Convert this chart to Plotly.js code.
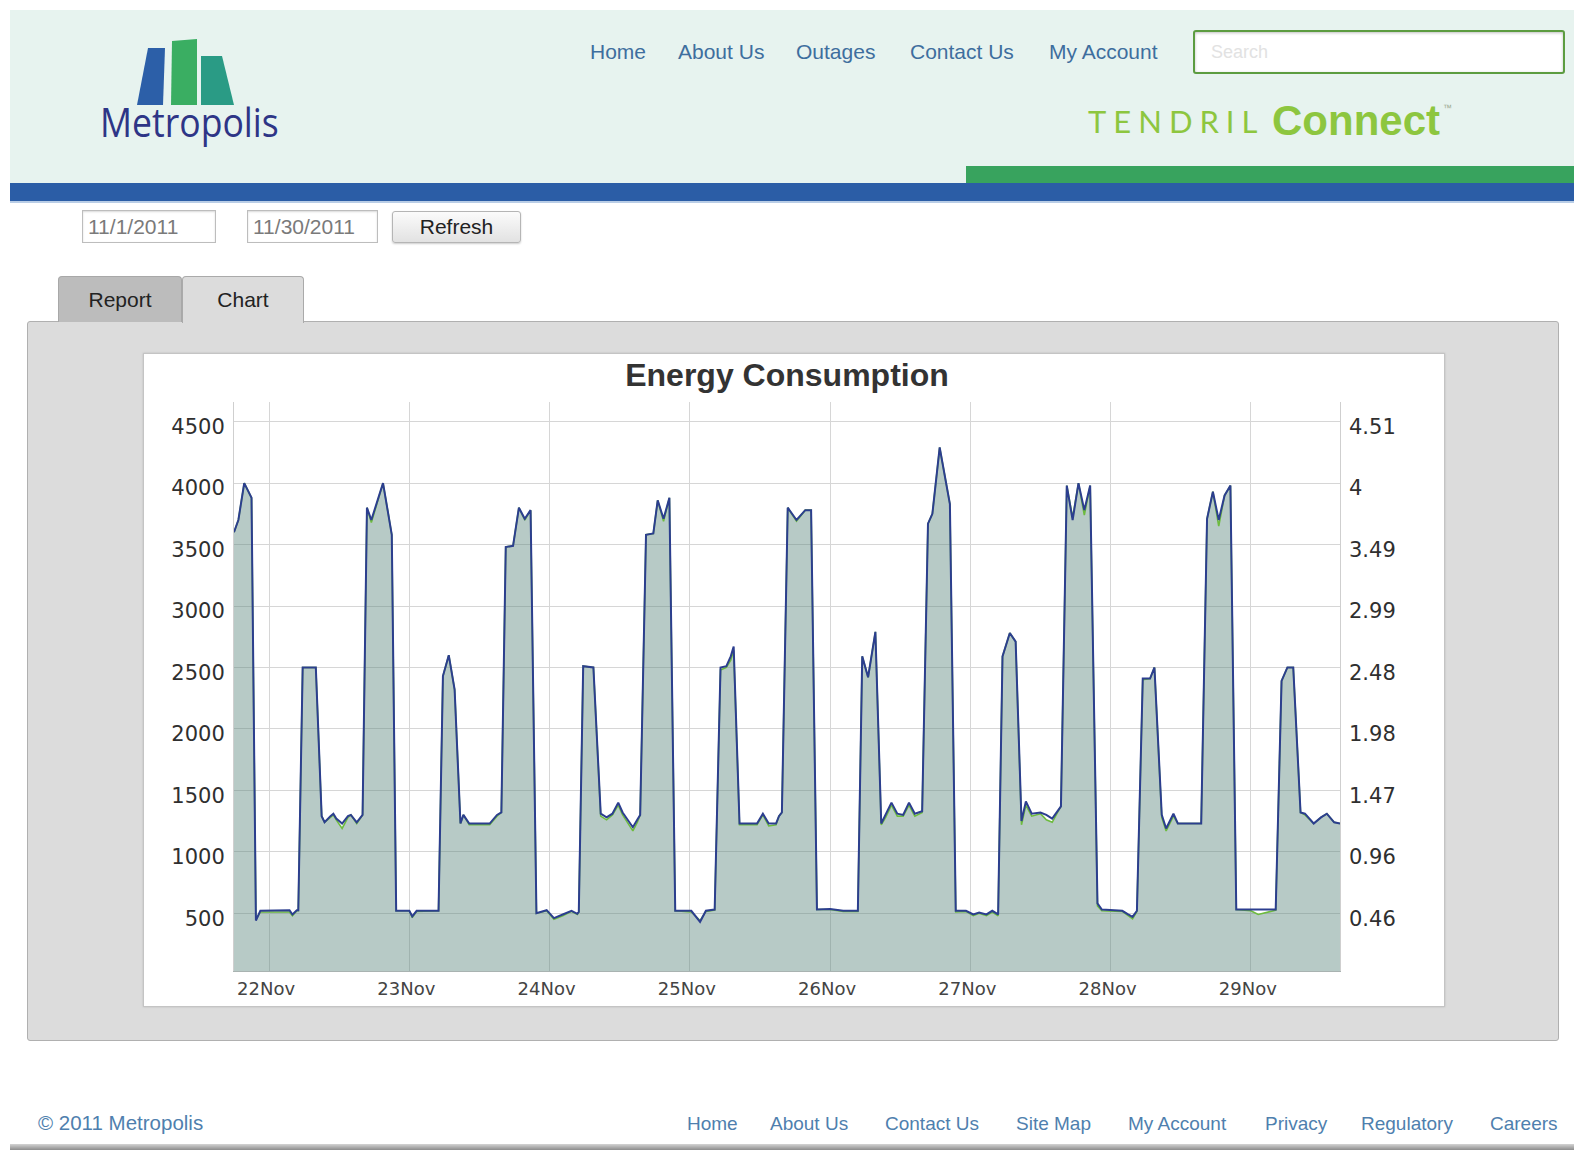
<!DOCTYPE html>
<html>
<head>
<meta charset="utf-8">
<script src="https://cdn.plot.ly/plotly-3.0.1.min.js"></script>
<style>
  html, body { margin: 0; padding: 0; background: #ffffff; }
  body { width: 1574px; height: 1152px; position: relative; overflow: hidden; font-family: "Liberation Sans", Arial, sans-serif; }
  .abs { position: absolute; }
  .txt { position: absolute; line-height: 1; white-space: nowrap; }
  .nav { font-size: 21px; color: #3e6e9e; top: 41px; }
  .foot { font-size: 19px; color: #4f7fae; top: 1114px; }
  .box { position: absolute; display: flex; align-items: center; box-sizing: border-box; }
</style>
</head>
<body>
<!-- header -->
<div class="abs" style="left:10px;top:10px;width:1564px;height:173px;background:#e7f3ef;"></div>
<div class="abs" style="left:966px;top:166px;width:608px;height:17px;background:#38a35e;"></div>
<div class="abs" style="left:10px;top:183px;width:1564px;height:18px;background:#2b5da6;border-bottom:2px solid #b9cde6;"></div>

<svg class="abs" style="left:0;top:0;" width="300" height="110">
  <polygon points="137,105 148,48 165,48 163,105" fill="#2c5fa8"/>
  <polygon points="171,105 172,41 197,39 197,105" fill="#3aae62"/>
  <polygon points="201,105 201,56 222,56 234,105" fill="#2a9b85"/>
</svg>
<div class="txt" style="left:100px;top:102px;font-family:'Open Sans','Noto Sans',sans-serif;font-size:40px;color:#2e3586;transform:scaleX(0.89);transform-origin:left top;">Metropolis</div>

<div class="txt nav" style="left:590px;">Home</div>
<div class="txt nav" style="left:678px;">About Us</div>
<div class="txt nav" style="left:796px;">Outages</div>
<div class="txt nav" style="left:910px;">Contact Us</div>
<div class="txt nav" style="left:1049px;">My Account</div>

<div class="box" style="left:1193px;top:30px;width:372px;height:44px;border:2px solid #5c9c40;border-radius:3px;background:#fff;box-shadow:inset 0 1px 3px rgba(0,0,0,0.25);padding-left:16px;font-size:18px;color:#e2e2e2;">Search</div>

<div class="txt" style="left:1088px;top:106px;font-family:'Lato','Liberation Sans',sans-serif;font-weight:400;font-size:31px;letter-spacing:7px;color:#8dc63f;">TENDRIL</div>
<div class="txt" style="left:1272px;top:100px;font-family:'Liberation Sans',Arial,sans-serif;font-weight:bold;font-size:42px;color:#8dc63f;">Connect</div>
<div class="txt" style="left:1443px;top:104px;font-size:9px;color:#9aaa90;">™</div>

<!-- date controls -->
<div class="box" style="left:82px;top:210px;width:134px;height:33px;border:1px solid #bdbdbd;background:#fff;padding-left:5px;font-size:21px;color:#7a7a7a;box-shadow:inset 0 1px 2px rgba(0,0,0,0.15);">11/1/2011</div>
<div class="box" style="left:247px;top:210px;width:131px;height:33px;border:1px solid #bdbdbd;background:#fff;padding-left:5px;font-size:21px;color:#7a7a7a;box-shadow:inset 0 1px 2px rgba(0,0,0,0.15);">11/30/2011</div>
<div class="box" style="left:392px;top:211px;width:129px;height:32px;border:1px solid #b5b5b5;border-radius:3px;background:linear-gradient(#fbfbfb,#e2e2e2);justify-content:center;font-size:21px;color:#222;box-shadow:0 1px 2px rgba(0,0,0,0.2);">Refresh</div>

<!-- tabs and panel -->
<div class="abs" style="left:27px;top:321px;width:1532px;height:720px;box-sizing:border-box;background:#dcdcdc;border:1px solid #b0b0b0;border-radius:3px;"></div>
<div class="box" style="left:58px;top:276px;width:124px;height:46px;background:#bcbcbc;border:1px solid #a8a8a8;border-bottom:none;border-radius:4px 4px 0 0;justify-content:center;font-size:21px;color:#222;">Report</div>
<div class="box" style="left:182px;top:276px;width:122px;height:47px;background:#dcdcdc;border:1px solid #aaaaaa;border-bottom:none;border-radius:4px 4px 0 0;justify-content:center;font-size:21px;color:#222;">Chart</div>

<!-- chart box -->
<div class="abs" style="left:143px;top:353px;width:1302px;height:654px;box-sizing:border-box;background:#fff;border:1px solid #c4c4c4;box-shadow:0 0 2px rgba(0,0,0,0.15);"></div>
<div id="chart" class="abs" style="left:143px;top:353px;width:1301px;height:653px;"></div>

<!-- footer -->
<div class="txt foot" style="left:38px;font-size:20.5px;top:1113px;">© 2011 Metropolis</div>
<div class="txt foot" style="left:687px;">Home</div>
<div class="txt foot" style="left:770px;">About Us</div>
<div class="txt foot" style="left:885px;">Contact Us</div>
<div class="txt foot" style="left:1016px;">Site Map</div>
<div class="txt foot" style="left:1128px;">My Account</div>
<div class="txt foot" style="left:1265px;">Privacy</div>
<div class="txt foot" style="left:1361px;">Regulatory</div>
<div class="txt foot" style="left:1490px;">Careers</div>
<div class="abs" style="left:10px;top:1144px;width:1564px;height:6px;background:linear-gradient(#d4d4d4,#8c8c8c);"></div>

<script>
// ---- data ----
const readTimes = [
  '2011-11-21 18:00','2011-11-21 18:45','2011-11-21 19:45','2011-11-21 20:30','2011-11-21 21:00','2011-11-21 21:45','2011-11-21 22:30',
  '2011-11-22 03:30','2011-11-22 04:00','2011-11-22 04:45','2011-11-22 05:00','2011-11-22 05:45','2011-11-22 08:00','2011-11-22 09:00','2011-11-22 09:30','2011-11-22 10:30','2011-11-22 11:00','2011-11-22 11:30','2011-11-22 12:30','2011-11-22 13:30','2011-11-22 14:00','2011-11-22 15:00','2011-11-22 15:45','2011-11-22 16:00','2011-11-22 16:45','2011-11-22 17:30','2011-11-22 19:30','2011-11-22 21:00','2011-11-22 21:45',
  '2011-11-23 00:00','2011-11-23 00:30','2011-11-23 01:15','2011-11-23 05:00','2011-11-23 05:45','2011-11-23 06:45','2011-11-23 07:45','2011-11-23 08:45','2011-11-23 09:15','2011-11-23 10:15','2011-11-23 13:45','2011-11-23 15:00','2011-11-23 15:45','2011-11-23 16:30','2011-11-23 17:45','2011-11-23 18:45','2011-11-23 19:45','2011-11-23 20:45','2011-11-23 21:45','2011-11-23 23:30',
  '2011-11-24 00:45','2011-11-24 02:15','2011-11-24 03:45','2011-11-24 04:45','2011-11-24 05:00','2011-11-24 05:45','2011-11-24 07:30','2011-11-24 08:45','2011-11-24 09:45','2011-11-24 10:45','2011-11-24 11:45','2011-11-24 12:30','2011-11-24 14:15','2011-11-24 15:00','2011-11-24 15:30','2011-11-24 16:30','2011-11-24 17:45','2011-11-24 18:30','2011-11-24 19:30','2011-11-24 20:30','2011-11-24 21:30',
  '2011-11-25 00:15','2011-11-25 01:45','2011-11-25 02:45','2011-11-25 04:15','2011-11-25 05:15','2011-11-25 06:15','2011-11-25 07:00','2011-11-25 07:30','2011-11-25 08:30','2011-11-25 11:30','2011-11-25 12:30','2011-11-25 13:30','2011-11-25 14:45','2011-11-25 15:15','2011-11-25 15:45','2011-11-25 16:45','2011-11-25 18:15','2011-11-25 19:45','2011-11-25 20:45','2011-11-25 21:45',
  '2011-11-26 00:00','2011-11-26 02:15','2011-11-26 04:45','2011-11-26 05:30','2011-11-26 06:30','2011-11-26 07:45','2011-11-26 08:45','2011-11-26 09:30','2011-11-26 10:30','2011-11-26 11:30','2011-11-26 12:30','2011-11-26 13:30','2011-11-26 14:30','2011-11-26 15:45','2011-11-26 16:45','2011-11-26 17:30','2011-11-26 18:45','2011-11-26 20:30','2011-11-26 21:30','2011-11-26 23:15',
  '2011-11-27 00:30','2011-11-27 01:30','2011-11-27 02:45','2011-11-27 03:45','2011-11-27 04:45','2011-11-27 05:30','2011-11-27 06:45','2011-11-27 07:45','2011-11-27 08:45','2011-11-27 09:30','2011-11-27 10:30','2011-11-27 12:00','2011-11-27 13:00','2011-11-27 14:00','2011-11-27 15:15','2011-11-27 15:30','2011-11-27 16:30','2011-11-27 17:30','2011-11-27 18:30','2011-11-27 19:30','2011-11-27 20:30','2011-11-27 21:45','2011-11-27 22:30',
  '2011-11-28 02:00','2011-11-28 03:00','2011-11-28 03:45','2011-11-28 04:30','2011-11-28 05:30','2011-11-28 06:45','2011-11-28 07:30','2011-11-28 08:45','2011-11-28 09:30','2011-11-28 10:45','2011-11-28 11:30','2011-11-28 15:30','2011-11-28 16:30','2011-11-28 17:30','2011-11-28 18:30','2011-11-28 19:30','2011-11-28 20:30','2011-11-28 21:30',
  '2011-11-29 00:00','2011-11-29 01:15','2011-11-29 02:30','2011-11-29 04:15','2011-11-29 05:15','2011-11-29 06:15','2011-11-29 07:15','2011-11-29 08:30','2011-11-29 09:15','2011-11-29 10:45','2011-11-29 12:00','2011-11-29 13:00','2011-11-29 14:15','2011-11-29 15:15'
];

// navy series (drawn on top)
const usageBlue = [
  3600,3700,4000,3930,3880,440,520,
  525,490,525,525,2500,2500,1290,1240,1290,1310,1270,1230,1290,1300,1240,1290,1300,3800,3700,4000,3580,520,
  520,475,520,520,2430,2600,2320,1230,1300,1230,1230,1300,1320,3480,3490,3800,3710,3780,500,525,
  460,490,520,495,510,2510,2500,1310,1280,1310,1400,1320,1200,1260,1300,3580,3590,3860,3710,3880,520,
  520,430,520,530,2500,2510,2590,2670,1230,1230,1310,1230,1230,1290,1320,3800,3700,3780,3780,530,
  535,520,520,2590,2420,2790,1230,1300,1400,1310,1300,1400,1310,1330,3670,3750,4290,3830,520,520,
  490,505,490,520,490,2590,2780,2710,1250,1410,1310,1320,1300,1270,1360,1370,3980,3700,4000,3780,3980,580,530,
  520,490,470,520,2410,2410,2500,1300,1190,1310,1230,1230,3710,3930,3700,3900,3980,530,
  530,530,530,530,2390,2500,2500,1320,1310,1230,1280,1310,1240,1230
];

// green series (filled area, mostly under the navy line)
const usageGreen = [
  3600,3700,4000,3930,3880,450,510,
  510,480,520,520,2500,2500,1290,1240,1280,1300,1260,1190,1280,1300,1230,1290,1300,3800,3680,4000,3580,520,
  520,465,515,520,2430,2600,2320,1230,1300,1220,1220,1290,1320,3480,3490,3800,3700,3780,500,520,
  450,480,515,490,510,2510,2500,1290,1260,1300,1380,1300,1170,1240,1300,3580,3590,3860,3690,3880,520,
  510,440,515,525,2480,2500,2560,2640,1220,1220,1300,1210,1220,1290,1320,3800,3690,3780,3780,530,
  530,515,515,2590,2420,2790,1220,1280,1380,1290,1290,1380,1290,1320,3670,3750,4290,3830,510,515,
  480,500,480,510,480,2590,2780,2710,1220,1380,1290,1310,1260,1240,1350,1370,3980,3720,4000,3740,3980,560,520,
  515,480,455,515,2400,2410,2500,1280,1170,1290,1230,1230,3710,3930,3650,3900,3980,530,
  520,490,505,525,2390,2500,2500,1320,1300,1230,1280,1310,1240,1230
];

const dayTicks = ['2011-11-22','2011-11-23','2011-11-24','2011-11-25','2011-11-26','2011-11-27','2011-11-28','2011-11-29'];
const leftTickValues = [500,1000,1500,2000,2500,3000,3500,4000,4500];
const rightTickLabels = ['0.46','0.96','1.47','1.98','2.48','2.99','3.49','4','4.51'];
const yRange = [30, 4660];

const tickFont = {family: 'DejaVu Sans, Verdana, sans-serif', size: 21, color: '#2f2f2f'};

const traces = [
  {
    x: readTimes, y: usageGreen, type: 'scatter', mode: 'lines',
    line: {color: '#6dbb3e', width: 1.6},
    fill: 'tozeroy', fillcolor: 'rgba(95,138,128,0.45)',
    hoverinfo: 'skip'
  },
  {
    x: readTimes, y: usageBlue, type: 'scatter', mode: 'lines',
    line: {color: '#2c3e8f', width: 2},
    hoverinfo: 'skip'
  },
  { x: [], y: [], type: 'scatter', mode: 'lines', yaxis: 'y2', hoverinfo: 'skip' }
];

const layout = {
  width: 1301, height: 653,
  margin: {l: 91, r: 104, t: 49, b: 35, pad: 0},
  paper_bgcolor: 'rgba(0,0,0,0)',
  plot_bgcolor: '#ffffff',
  showlegend: false,
  title: {
    text: 'Energy Consumption',
    font: {family: 'Liberation Sans, Arial, sans-serif', size: 32, color: '#333333', weight: 'bold'},
    x: 0.5, xref: 'paper', xanchor: 'center',
    y: 0.967, yref: 'container', yanchor: 'middle'
  },
  xaxis: {
    type: 'date',
    range: [readTimes[0], readTimes[readTimes.length - 1]],
    tickmode: 'array', tickvals: dayTicks, tickformat: '%d%b',
    showgrid: true, gridcolor: '#d6d6d6', gridwidth: 1,
    ticks: '', ticklabelstandoff: 1, ticklabelshift: -3,
    tickfont: {family: 'DejaVu Sans, Verdana, sans-serif', size: 18, color: '#444444'},
    showline: true, linecolor: '#a9b3b1', linewidth: 1,
    zeroline: false, fixedrange: true
  },
  yaxis: {
    range: yRange,
    tickmode: 'array', tickvals: leftTickValues,
    showgrid: true, gridcolor: '#d6d6d6', gridwidth: 1,
    ticks: '', ticklabelstandoff: 4, ticklabelshift: 5,
    tickfont: tickFont,
    showline: true, mirror: true, linecolor: '#cfcfcf', linewidth: 1,
    zeroline: false, fixedrange: true
  },
  yaxis2: {
    overlaying: 'y', side: 'right', anchor: 'x',
    range: yRange,
    tickmode: 'array', tickvals: leftTickValues, ticktext: rightTickLabels,
    showgrid: false, zeroline: false, showline: false,
    ticks: '', ticklabelstandoff: 8, ticklabelshift: 5,
    tickfont: tickFont, fixedrange: true
  }
};

Plotly.newPlot('chart', traces, layout, {staticPlot: true, displayModeBar: false});
</script>
</body>
</html>
